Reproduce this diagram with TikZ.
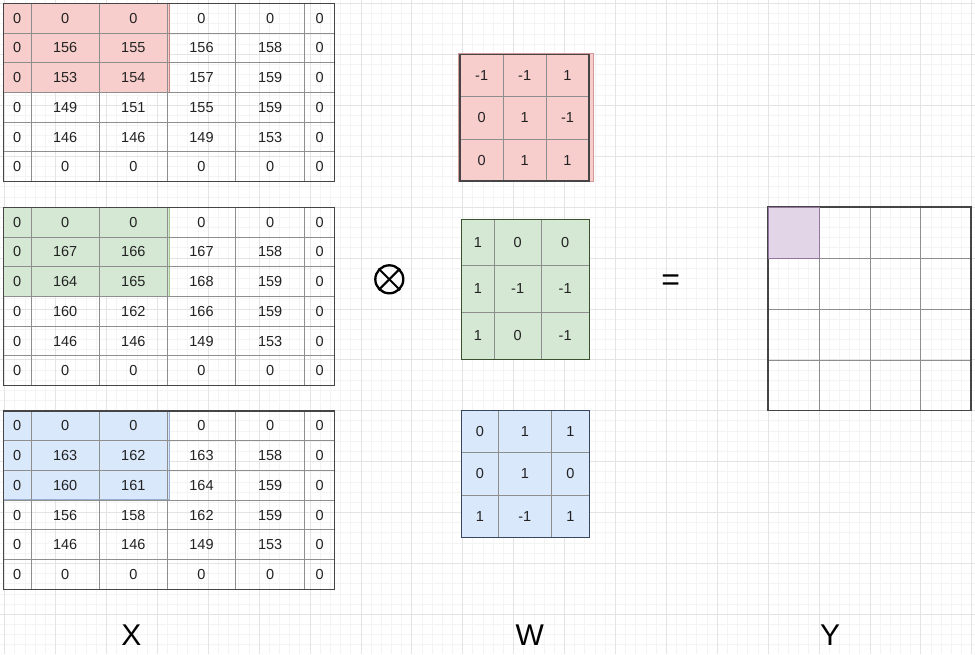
\documentclass[tikz,border=0pt]{standalone}
\usepackage{fontspec}
\setmainfont{Liberation Sans}
\definecolor{redf}{HTML}{F8CECC}
\definecolor{reds}{HTML}{B85450}
\definecolor{greenf}{HTML}{D5E8D4}
\definecolor{greens}{HTML}{82B366}
\definecolor{bluef}{HTML}{DAE8FC}
\definecolor{blues}{HTML}{6C8EBF}
\definecolor{purf}{HTML}{E1D5E7}
\definecolor{purs}{HTML}{9673A6}
\definecolor{gridmin}{HTML}{F4F4F4}
\definecolor{gridmaj}{HTML}{E4E4E4}
\definecolor{innerc}{HTML}{8E8E8E}
\definecolor{outerc}{HTML}{454545}
\definecolor{txt}{HTML}{222222}
\newcommand\xmat[5]{%
  \fill[#3, draw=#4!70, line width=0.9pt] (3.3,#2) rectangle (169.8,#2+88.7);
  \foreach \yy in {1,...,5} \draw[innerl] (3.3,#2+29.72*\yy) -- (334.7,#2+29.72*\yy);
  \foreach \xx in {31,99.3,167.3,235.7,304.7} \draw[innerl] (\xx,#2) -- (\xx,#2+178.3);
  \draw[outerl] (3.3,#2) rectangle (334.7,#2+178.3);
  \foreach \row [count=\i] in {#5} {
    \foreach \v [count=\j] in \row {
      \pgfmathsetmacro\cx{{17.15,65.15,133.3,201.5,270.2,319.7}[\j-1]}
      \node[cell] (#1-\i-\j) at (\cx,#2+29.72*\i-14.86) {\v};
    }
  }%
}
\begin{document}
\begin{tikzpicture}[x=1pt,y=-1pt,
  cell/.style={inner sep=0pt, font=\fontsize{14.5}{14.5}\selectfont, text=txt},
  biglabel/.style={inner sep=0pt, anchor=base, font=\fontsize{30}{30}\selectfont, text=black},
  innerl/.style={draw=innerc, line width=0.9pt},
  outerl/.style={draw=outerc, line width=1.2pt}]
\useasboundingbox (0,0) rectangle (975,654);
\fill[white] (0,0) rectangle (975,654);
% background grid
\foreach \k in {0,...,95} \draw[gridmin, line width=0.8pt] (4.6+10.18*\k,0) -- (4.6+10.18*\k,654);
\foreach \k in {0,...,64} \draw[gridmin, line width=0.8pt] (0,3.5+10.18*\k) -- (975,3.5+10.18*\k);
\foreach \k in {0,...,19} \draw[gridmaj, line width=0.8pt] (4.6+50.9*\k,0) -- (4.6+50.9*\k,654);
\foreach \k in {0,...,12} \draw[gridmaj, line width=0.8pt] (0,3.5+50.9*\k) -- (975,3.5+50.9*\k);

% X matrices
\xmat{xa}{3.3}{redf}{reds}{{0,0,0,0,0,0},{0,156,155,156,158,0},{0,153,154,157,159,0},{0,149,151,155,159,0},{0,146,146,149,153,0},{0,0,0,0,0,0}}
\xmat{xb}{207.3}{greenf}{greens}{{0,0,0,0,0,0},{0,167,166,167,158,0},{0,164,165,168,159,0},{0,160,162,166,159,0},{0,146,146,149,153,0},{0,0,0,0,0,0}}
\xmat{xc}{411}{bluef}{blues}{{0,0,0,0,0,0},{0,163,162,163,158,0},{0,160,161,164,159,0},{0,156,158,162,159,0},{0,146,146,149,153,0},{0,0,0,0,0,0}}

% W1 (red)
\fill[redf, draw=reds!60, line width=1pt] (458.3,53.3) rectangle (593,181.7);
\foreach \xx in {503.3,546} \draw[innerl] (\xx,54.3) -- (\xx,181);
\foreach \yy in {96.7,139.3} \draw[innerl] (460,\yy) -- (589,\yy);
\draw[outerl] (460,54.3) rectangle (589,181);
\foreach \row [count=\i] in {{-1,-1,1},{0,1,-1},{0,1,1}} {
  \foreach \v [count=\j] in \row {
    \pgfmathsetmacro\cx{{481.65,524.65,567.5}[\j-1]}
    \pgfmathsetmacro\cy{{75.5,118,160.15}[\i-1]}
    \node[cell] (wa-\i-\j) at (\cx,\cy) {\v};
  }
}
% W2 (green)
\fill[greenf] (461.7,219.3) rectangle (589.3,359.3);
\foreach \xx in {494.3,541} \draw[innerl] (\xx,219.3) -- (\xx,359.3);
\foreach \yy in {265.7,312.3} \draw[innerl] (461.7,\yy) -- (589.3,\yy);
\draw[draw=greens!45!black, line width=1.3pt] (461.7,219.3) rectangle (589.3,359.3);
\foreach \row [count=\i] in {{1,0,0},{1,-1,-1},{1,0,-1}} {
  \foreach \v [count=\j] in \row {
    \pgfmathsetmacro\cx{{478,517.65,565.15}[\j-1]}
    \pgfmathsetmacro\cy{{242.5,289,335.8}[\i-1]}
    \node[cell] (wb-\i-\j) at (\cx,\cy) {\v};
  }
}
% W3 (blue)
\fill[bluef] (461.7,410.3) rectangle (589.3,537.7);
\foreach \xx in {498.3,551.3} \draw[innerl] (\xx,410.3) -- (\xx,537.7);
\foreach \yy in {452.3,495.3} \draw[innerl] (461.7,\yy) -- (589.3,\yy);
\draw[draw=blues!50!black, line width=1.3pt] (461.7,410.3) rectangle (589.3,537.7);
\foreach \row [count=\i] in {{0,1,1},{0,1,0},{1,-1,1}} {
  \foreach \v [count=\j] in \row {
    \pgfmathsetmacro\cx{{480,524.8,570.3}[\j-1]}
    \pgfmathsetmacro\cy{{431.3,473.8,516.5}[\i-1]}
    \node[cell] (wc-\i-\j) at (\cx,\cy) {\v};
  }
}

% Y matrix
\fill[purf] (768,207) rectangle (819,258);
\foreach \xx in {819,870,920.7} \draw[innerl] (\xx,207) -- (\xx,410.7);
\foreach \yy in {258,309,360} \draw[innerl] (768,\yy) -- (971,\yy);
\draw[outerl] (768,207) rectangle (971,410.7);
\draw[purs!80!gray, line width=1pt] (768,207) rectangle (819,258);

% operators
\node[circle, draw=black, line width=2.3pt, minimum size=28pt, inner sep=0pt] (ot) at (389.3,279.3) {};
\draw[black, line width=2.1pt] (ot.north west) -- (ot.south east);
\draw[black, line width=2.1pt] (ot.north east) -- (ot.south west);
\node[inner sep=0pt, anchor=base, font=\fontsize{32}{32}\selectfont] (eq) at (670.7,290.4) {=};

% labels
\node[biglabel] (lx) at (131.3,645.7) {X};
\node[biglabel] (lw) at (529.7,645.7) {W};
\node[biglabel] (ly) at (830,645.7) {Y};
\end{tikzpicture}
\end{document}
